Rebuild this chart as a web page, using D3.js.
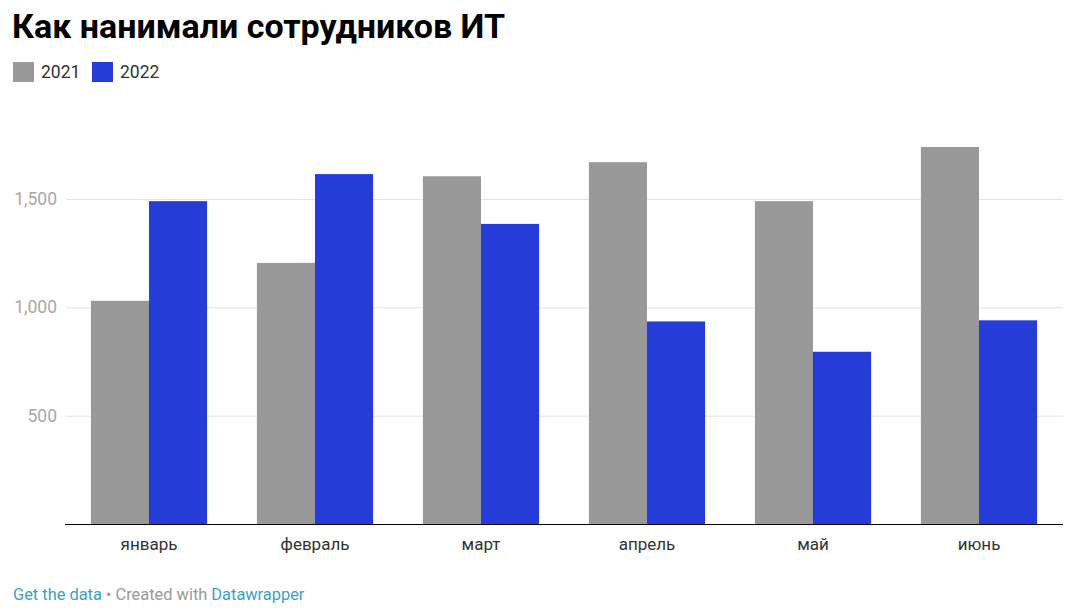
<!DOCTYPE html>
<html>
<head>
<meta charset="utf-8">
<script src="https://cdn.jsdelivr.net/npm/d3@7"></script>
<style>
  body { margin: 0; background: #fff; font-family: Roboto, "Noto Sans", sans-serif; }
</style>
</head>
<body>
<svg></svg>
<script>
let months = ["январь", "февраль", "март", "апрель", "май", "июнь"];
let years = ["2021", "2022"];
let values2021 = [1030, 1205, 1605, 1670, 1490, 1740];
let values2022 = [1490, 1615, 1385, 935, 795, 940];
let yTicks = [500, 1000, 1500];
let colors = ["#999999", "#263cd9"];

drawChart();

function drawChart() {
    let svgWidth = 1075, svgHeight = 615;
    let margin = { top: 110, right: 12, bottom: 91, left: 66 };
    let width = svgWidth - margin.left - margin.right;
    let height = svgHeight - margin.top - margin.bottom;

    let svg = d3.select("svg")
        .attr("width", svgWidth)
        .attr("height", svgHeight);

    // title
    svg.append("text")
        .attr("x", 12)
        .attr("y", 38)
        .attr("font-size", 34)
        .attr("font-weight", "bold")
        .attr("fill", "#000")
        .text("Как нанимали сотрудников ИТ");

    // legend
    let legend = svg.append("g").attr("transform", "translate(13,62)");
    let lx = [0, 79];
    years.forEach(function (yr, i) {
        legend.append("rect")
            .attr("x", lx[i]).attr("y", 0)
            .attr("width", 21).attr("height", 20)
            .attr("fill", colors[i]);
        legend.append("text")
            .attr("x", lx[i] + 28).attr("y", 16)
            .attr("font-size", 17.5)
            .attr("fill", "#333")
            .text(yr);
    });

    let g = svg.append("g")
        .attr("transform", "translate(" + margin.left + "," + margin.top + ")");

    let x0 = d3.scaleBand()
        .domain(months)
        .range([0, width - 1])
        .paddingInner(0.3)
        .paddingOuter(0.15);

    let x1 = d3.scaleBand()
        .domain(years)
        .range([0, x0.bandwidth()]);

    let y = d3.scaleLinear()
        .domain([0, 1500])
        .range([height, height - 325]);

    // gridlines + y labels
    let yAxis = g.append("g")
        .call(d3.axisLeft(y).tickValues(yTicks).tickSize(-width).tickFormat(d3.format(",")));
    yAxis.select(".domain").remove();
    yAxis.selectAll("line").attr("stroke", "#e3e3e3");
    yAxis.selectAll("text")
        .attr("x", -9)
        .attr("font-family", "Roboto, sans-serif")
        .attr("font-size", 17.5)
        .attr("fill", "#a8a8a8");

    let data = months.map(function (m, i) {
        return { month: m, vals: [values2021[i], values2022[i]] };
    });

    let groups = g.selectAll(".grp")
        .data(data)
        .enter().append("g")
        .attr("transform", function (d) { return "translate(" + x0(d.month) + ",0)"; });

    groups.selectAll("rect")
        .data(function (d) { return d.vals.map(function (v, i) { return { key: years[i], value: v, i: i }; }); })
        .enter().append("rect")
        .attr("x", function (d) { return x1(d.key); })
        .attr("width", x1.bandwidth())
        .attr("y", function (d) { return y(d.value); })
        .attr("height", function (d) { return y(0) - y(d.value); })
        .attr("fill", function (d) { return colors[d.i]; });

    // x axis
    let xAxis = g.append("g")
        .attr("transform", "translate(0," + height + ")")
        .call(d3.axisBottom(x0).tickSize(0).tickPadding(14));
    xAxis.select(".domain").attr("stroke", "#000").attr("d", "M-1,0.5H" + width);
    xAxis.selectAll("text")
        .attr("font-family", "Roboto, sans-serif")
        .attr("font-size", 17)
        .attr("fill", "#333");

    // footer
    let foot = svg.append("text")
        .attr("x", 13)
        .attr("y", 600)
        .attr("font-size", 16.4);
    foot.append("tspan").attr("fill", "#3d9fc3").text("Get the data");
    foot.append("tspan").attr("fill", "#999").text(" • Created with ");
    foot.append("tspan").attr("fill", "#3d9fc3").text("Datawrapper");
}
</script>
</body>
</html>
